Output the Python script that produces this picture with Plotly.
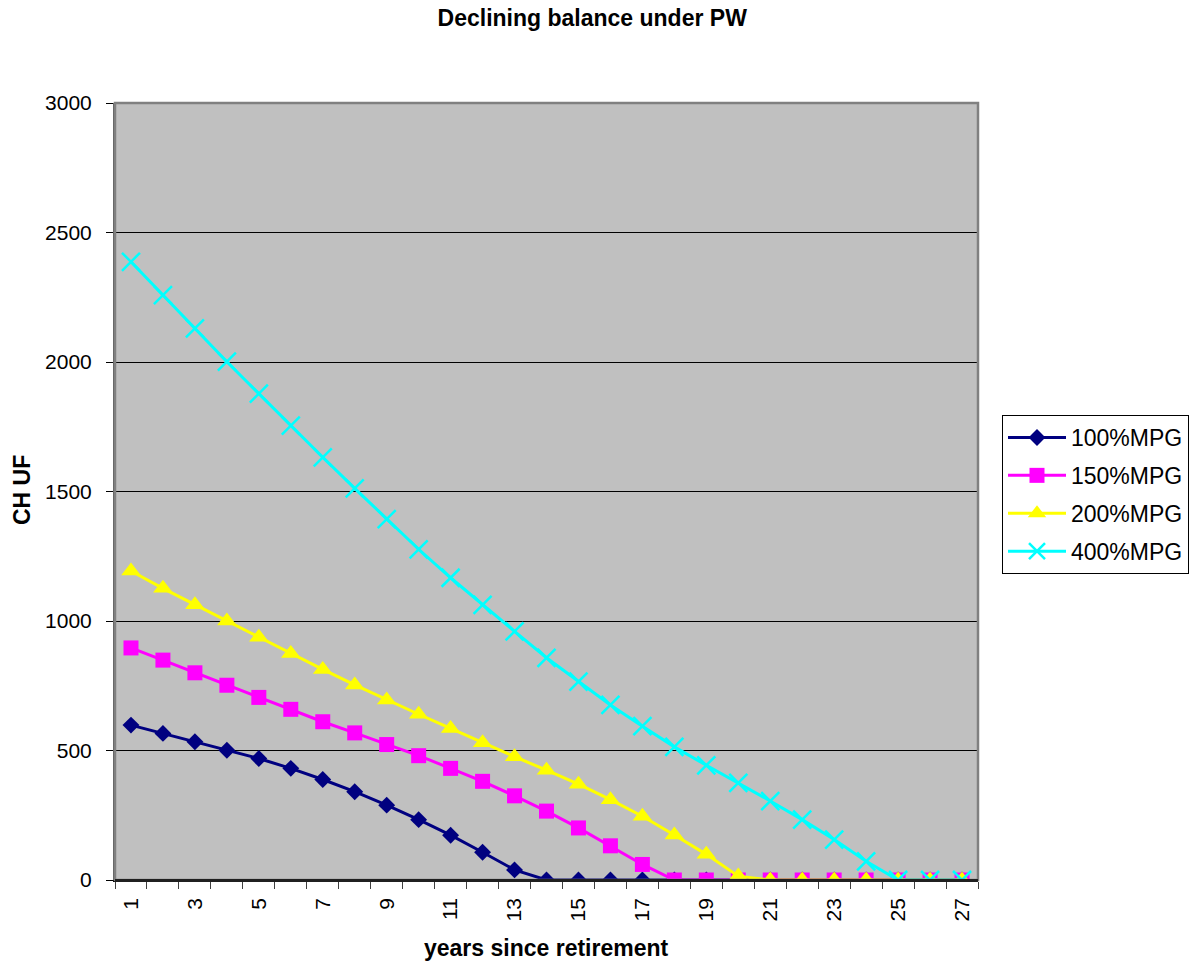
import plotly.graph_objects as go

years = list(range(1, 28))
mpg100 = [598, 566, 534, 501, 469, 431, 388, 341, 289, 233, 173, 107, 39,
          0, 0, 0, 0, 0, 0, 0, 0, 0, 0, 0, 0, 0, 0]
mpg150 = [896, 849, 800, 752, 705, 659, 611, 568, 523, 480, 431, 381, 325,
          266, 201, 132, 60, 0, 0, 0, 0, 0, 0, 0, 0, 0, 0]
mpg200 = [1193, 1126, 1063, 1000, 937, 875, 813, 753, 695, 640, 585, 530, 476,
          424, 370, 310, 246, 174, 99, 15, 0, 0, 0, 0, 0, 0, 0]
mpg400 = [2387, 2258, 2130, 2001, 1878, 1754, 1632, 1512, 1393, 1277, 1167, 1062, 960,
          858, 766, 676, 594, 514, 443, 375, 305, 233, 156, 72, 0, 0, 0]
series_names = ["100%MPG", "150%MPG", "200%MPG", "400%MPG"]
y_ticks = [0, 500, 1000, 1500, 2000, 2500, 3000]
x_ticks = list(range(1, 28, 2))

FONT = "Arial, Liberation Sans, sans-serif"

styles = [
    dict(color="#000080", symbol="diamond", size=13, mline=0),
    dict(color="#FF00FF", symbol="square", size=15, mline=0),
    dict(color="#FFFF00", symbol="triangle-up", size=17, mline=0),
    dict(color="#00FFFF", symbol="x-thin-open", size=18, mline=2.5),
]

fig = go.Figure()
for i, (name, vals) in enumerate(zip(series_names, [mpg100, mpg150, mpg200, mpg400])):
    st = styles[i]
    marker = dict(color=st["color"], symbol=st["symbol"], size=st["size"])
    if st["mline"]:
        marker["line"] = dict(color=st["color"], width=st["mline"])
    else:
        marker["line"] = dict(width=0)
    fig.add_trace(go.Scatter(
        x=years, y=vals, name=name, mode="lines+markers",
        line=dict(color=st["color"], width=3),
        marker=marker, legendgroup=name,
    ))

fig.update_layout(
    width=1194, height=964,
    margin=dict(l=115, r=216, t=103, b=84, autoexpand=False),
    paper_bgcolor="white", plot_bgcolor="#C0C0C0",
    font=dict(family=FONT, size=21, color="black"),
    showlegend=True,
    title=dict(text="<b>Declining balance under PW</b>", x=0.496, xanchor="center",
               y=1 - 18 / 964, yanchor="middle", yref="container",
               font=dict(family=FONT, size=23)),
    legend=dict(x=(1002 - 115) / 863, xanchor="left", y=(880 - 415) / 777, yanchor="top",
                bgcolor="white", bordercolor="black", borderwidth=1,
                font=dict(family=FONT, size=23), tracegroupgap=5,
                itemwidth=58, itemsizing="trace"),
)

fig.update_xaxes(
    range=[0.5, 27.5], tickmode="array", tickvals=x_ticks,
    ticktext=[str(v) for v in x_ticks], tickangle=-90, ticks="",
    showgrid=False, zeroline=False, showline=True, linecolor="black", linewidth=1.5,
    ticklabelstandoff=8,
    minor=dict(tickmode="array", tickvals=[v + 0.5 for v in range(0, 28)],
               ticks="outside", ticklen=7, tickcolor="#404040", tickwidth=1, showgrid=False),
    tickfont=dict(family=FONT, size=21),
)
fig.update_yaxes(
    range=[0, 3000], tickmode="array", tickvals=y_ticks,
    ticks="outside", ticklen=7, tickcolor="black", tickwidth=1,
    showgrid=True, gridcolor="black", gridwidth=1, zeroline=False,
    showline=True, linecolor="#606060", linewidth=2, ticklabelstandoff=10,
    tickfont=dict(family=FONT, size=21),
)

# plot area border (gray top and right edges)
fig.add_shape(type="rect", xref="paper", yref="paper", x0=0, y0=0, x1=1, y1=1,
              line=dict(color="#808080", width=2.5), fillcolor="rgba(0,0,0,0)", layer="above")
fig.add_shape(type="line", xref="paper", yref="paper", x0=0, y0=0, x1=1, y1=0,
              line=dict(color="black", width=1.5), layer="above")

fig.add_annotation(text="<b>years since retirement</b>", xref="paper", yref="paper",
                   x=0.5, y=(880 - 948) / 777, xanchor="center", yanchor="middle",
                   showarrow=False, font=dict(family=FONT, size=23))
fig.add_annotation(text="<b>CH UF</b>", xref="paper", yref="paper",
                   x=(22 - 115) / 863, y=(880 - 490) / 777, xanchor="center", yanchor="middle",
                   textangle=-90, showarrow=False, font=dict(family=FONT, size=23))

fig.write_html("out.html")
